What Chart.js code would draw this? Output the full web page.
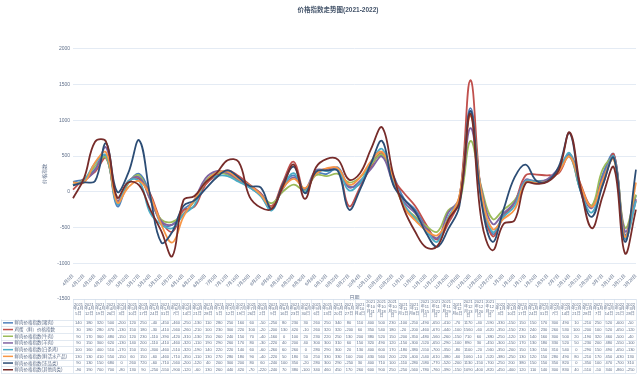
<!DOCTYPE html>
<html>
<head>
<meta charset="utf-8">
<script src="https://cdn.jsdelivr.net/npm/chart.js@4.4.0/dist/chart.umd.min.js"></script>
<style>
  html, body { margin: 0; padding: 0; background: #fff; }
</style>
</head>
<body>
<canvas id="myChart" width="641" height="376"></canvas>
<script>
// 周数据 (2021-04-05 ~ 2022-03-28)
const dates = [
  '2021-04-05','2021-04-12','2021-04-19','2021-04-26','2021-05-03','2021-05-10','2021-05-17','2021-05-24','2021-05-31',
  '2021-06-07','2021-06-14','2021-06-21','2021-06-28','2021-07-05','2021-07-12','2021-07-19','2021-07-26',
  '2021-08-02','2021-08-09','2021-08-16','2021-08-23','2021-08-30','2021-09-06','2021-09-13','2021-09-20','2021-09-27',
  '2021-10-04','2021-10-11','2021-10-18','2021-10-25','2021-11-01','2021-11-08','2021-11-15','2021-11-22','2021-11-29',
  '2021-12-06','2021-12-13','2021-12-20','2021-12-27','2022-01-03','2022-01-10','2022-01-17','2022-01-24','2022-01-31',
  '2022-02-07','2022-02-14','2022-02-21','2022-02-28','2022-03-07','2022-03-14','2022-03-21','2022-03-28'
];

const seriesNames = [
  '鲜肉价格指数(猪肉)', '鸡蛋（鲜）价格指数', '鲜肉价格指数(牛肉)', '鲜肉价格指数(羊肉)',
  '鲜肉价格指数(白条鸡)', '鲜肉价格指数(鲜活水产品)', '鲜肉价格指数(冻品类)', '鲜肉价格指数(其他肉类)'
];
const seriesColors = ['#4f81bd', '#c0504d', '#9bbb59', '#8064a2', '#4bacc6', '#f79646', '#2c4d75', '#772c2a'];

const pork = [140,180,320,500,-200,120,250,-40,-450,-460,-250,-130,110,280,250,160,60,-50,-250,80,230,30,260,250,340,80,110,400,500,230,-100,-250,-490,-650,-410,-70,1170,-40,-590,-330,-150,150,150,170,300,490,10,-210,250,520,-600,-50];
const egg = [30,180,280,470,-130,150,180,-30,-410,-560,-260,-210,100,230,300,220,100,-20,-200,130,420,-10,260,320,320,-200,60,350,540,180,-20,-200,-460,-670,-440,-100,1560,-60,-620,-350,-150,230,240,230,260,530,100,-200,100,520,-650,-120];
const beef = [90,170,360,480,-150,120,230,-110,-390,-420,-310,-130,150,260,240,150,70,-40,-160,0,100,20,230,220,250,130,200,380,520,150,-200,-350,-480,-560,-260,-150,710,60,-380,-250,-120,130,140,160,300,500,20,-190,320,460,-500,-40];
const mutton = [90,150,300,620,-130,140,200,-110,-410,-460,-320,-110,190,290,260,170,80,-30,-220,40,200,40,300,300,310,60,150,320,490,120,-150,-300,-520,-650,-290,-100,890,30,-450,-300,-150,170,130,180,330,520,50,-230,200,480,-550,-100];
const chicken = [100,160,400,510,-170,150,150,-300,-460,-510,-320,-190,140,220,220,140,60,-60,-260,60,260,0,280,290,300,20,130,400,600,170,-180,-380,-550,-700,-350,-80,1100,-20,-560,-350,-200,150,130,150,310,540,0,-290,150,490,-650,-130];
const aquatic = [130,130,410,550,-150,60,150,-60,-460,-710,-350,-110,130,270,280,180,90,-40,-220,50,180,50,250,330,330,100,200,430,560,200,-220,-400,-540,-610,-380,-60,1060,-10,-520,-380,-250,130,120,150,280,490,80,-210,170,450,-630,130];
const frozen = [90,130,150,680,0,260,720,-60,-710,-560,-200,-120,40,200,300,200,80,60,-240,100,350,-20,280,300,290,-250,30,400,710,100,-110,-280,-580,-770,-520,-200,1130,-150,-700,-250,200,380,150,150,350,820,0,-350,100,470,-700,310];
const otherMeat = [-90,190,700,700,-80,130,90,-250,-550,-900,-120,-60,130,260,440,420,-70,-220,-240,70,380,-100,340,460,450,170,260,600,900,250,-250,-560,-780,-760,-390,-150,1090,-400,-820,-450,-400,120,110,140,300,830,40,-510,-50,340,-860,-250];

const seriesValues = [pork, egg, beef, mutton, chicken, aquatic, frozen, otherMeat];

const yTicks = { min: -1500, max: 2000, step: 500 };

const axisLabels = dates.map(d => {
  const p = d.split('-');
  return (+p[1]) + '月' + (+p[2]) + '日';
});
const headLabels = dates.map(d => {
  const p = d.split('-');
  return p[0] + '年' + (+p[1]) + '月' + (+p[2]) + '日';
});

const txtColor = '#5f6f8a';
const lineColor = '#d6dfeb';
Chart.defaults.font.family = '"Liberation Sans", "Noto Sans CJK SC", sans-serif';

// 数据表 + 图例 画在图表下方
const dataTable = {
  id: 'dataTable',
  afterDraw(chart) {
    const { ctx, chartArea } = chart;
    const n = dates.length;
    const colW = chartArea.width / n;
    const top = chartArea.bottom;
    const headH = 20.5;
    const rowH = 6.7;
    const sets = chart.data.datasets;
    const tableBottom = top + headH + rowH * sets.length;

    ctx.save();
    ctx.strokeStyle = lineColor;
    ctx.lineWidth = 0.7;
    ctx.beginPath();
    // 竖线
    for (let i = 0; i <= n; i++) {
      const x = Math.round(chartArea.left + colW * i) + 0.5;
      ctx.moveTo(x, top);
      ctx.lineTo(x, tableBottom);
    }
    ctx.moveTo(1.5, top + headH);
    ctx.lineTo(1.5, tableBottom);
    // 横线
    ctx.moveTo(chartArea.left, top + 0.5);
    ctx.lineTo(chartArea.right, top + 0.5);
    for (let r = 0; r <= sets.length; r++) {
      const y = Math.round(top + headH + rowH * r) + 0.5;
      ctx.moveTo(1, y);
      ctx.lineTo(chartArea.right, y);
    }
    ctx.stroke();

    // 表头日期
    ctx.fillStyle = txtColor;
    ctx.textAlign = 'center';
    ctx.textBaseline = 'middle';
    ctx.font = '4px "Liberation Sans", "Noto Sans CJK SC"';
    for (let i = 0; i < n; i++) {
      const lines = [];
      let cur = '';
      for (const ch of headLabels[i]) {
        if (cur && ctx.measureText(cur + ch).width > colW) {
          lines.push(cur);
          cur = ch;
        } else {
          cur += ch;
        }
      }
      if (cur) lines.push(cur);
      const cx = chartArea.left + colW * (i + 0.5);
      const lh = 4.6;
      const y0 = top + headH / 2 - (lines.length - 1) * lh / 2;
      lines.forEach((t, k) => ctx.fillText(t, cx, y0 + k * lh));
    }

    // 数值
    sets.forEach((ds, r) => {
      const cy = top + headH + rowH * (r + 0.5);
      ds.data.forEach((v, i) => {
        ctx.fillText(String(v), chartArea.left + colW * (i + 0.5), cy + 0.3);
      });
      // 图例
      ctx.strokeStyle = ds.borderColor;
      ctx.lineWidth = 1.5;
      ctx.beginPath();
      ctx.moveTo(3, cy);
      ctx.lineTo(13, cy);
      ctx.stroke();
      ctx.save();
      ctx.textAlign = 'left';
      ctx.font = '4.5px "Liberation Sans", "Noto Sans CJK SC"';
      ctx.fillText(ds.label, 14.5, cy + 0.3);
      ctx.restore();
    });
    ctx.restore();
  }
};

const ctx = document.querySelector('#myChart');

new Chart(ctx, {
  type: 'line',
  data: {
    labels: axisLabels,
    datasets: seriesValues.map((vals, i) => ({
      label: seriesNames[i],
      data: vals,
      borderColor: seriesColors[i],
      backgroundColor: seriesColors[i],
      borderWidth: 1.8,
      pointRadius: 0,
      tension: 0.4,
      fill: false,
      order: seriesValues.length - 1 - i
    }))
  },
  options: {
    responsive: false,
    animation: false,
    devicePixelRatio: 1,
    layout: { padding: { left: 40, right: 5, top: 0, bottom: 77 } },
    plugins: {
      legend: { display: false },
      tooltip: { enabled: false },
      title: {
        display: true,
        text: '价格指数走势图(2021-2022)',
        color: '#44546a',
        font: { size: 6.5, weight: 'bold' },
        padding: { top: 6, bottom: 35 }
      }
    },
    scales: {
      x: {
        position: { y: -1000 },
        offset: false,
        grid: { display: false },
        border: { display: false },
        ticks: {
          autoSkip: false,
          maxRotation: 45,
          minRotation: 45,
          padding: 2,
          color: txtColor,
          font: { size: 4.5 }
        },
        title: { display: true, text: '日期', color: txtColor, font: { size: 5 }, padding: { top: 2, bottom: 5 } },
        afterFit(s) { s.paddingLeft = 0; s.paddingRight = 0; }
      },
      y: {
        min: yTicks.min,
        max: yTicks.max,
        ticks: {
          stepSize: yTicks.step,
          padding: 3,
          color: txtColor,
          font: { size: 5 },
          callback: v => String(v)
        },
        grid: { color: '#e1e9f3', lineWidth: 0.9, drawTicks: false },
        border: { display: false },
        title: { display: true, text: '价格指数', color: txtColor, font: { size: 5 }, padding: { top: 2, bottom: 0 } },
        afterFit(s) { s.width = 33; }
      }
    }
  },
  plugins: [dataTable]
});
</script>
</body>
</html>
